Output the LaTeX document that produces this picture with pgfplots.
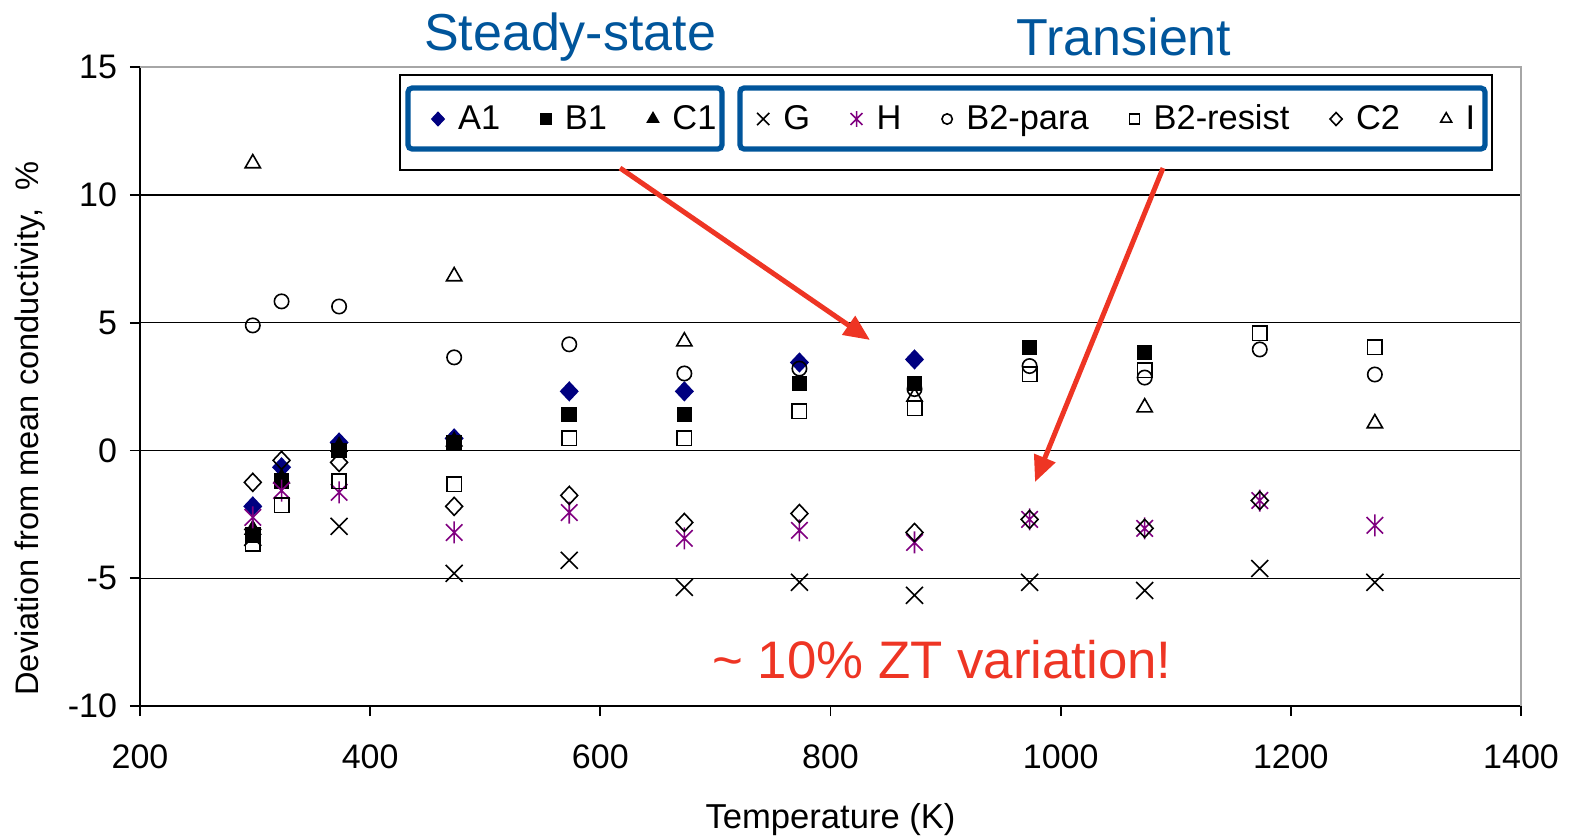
\documentclass[border=0pt]{standalone}
\usepackage{fontspec}
\setmainfont{Liberation Sans}
\usepackage{pgfplots}
\pgfplotsset{compat=1.18}
\usetikzlibrary{arrows.meta}
\definecolor{ttblue}{RGB}{0,85,155}
\definecolor{ttred}{RGB}{238,53,36}
\definecolor{navyA}{RGB}{0,0,128}
\definecolor{purpH}{RGB}{128,0,128}
\pgfdeclareplotmark{xbar}{%
  \pgfpathmoveto{\pgfqpoint{-.75\pgfplotmarksize}{-.75\pgfplotmarksize}}%
  \pgfpathlineto{\pgfqpoint{.75\pgfplotmarksize}{.75\pgfplotmarksize}}%
  \pgfpathmoveto{\pgfqpoint{-.75\pgfplotmarksize}{.75\pgfplotmarksize}}%
  \pgfpathlineto{\pgfqpoint{.75\pgfplotmarksize}{-.75\pgfplotmarksize}}%
  \pgfpathmoveto{\pgfqpoint{0pt}{-\pgfplotmarksize}}%
  \pgfpathlineto{\pgfqpoint{0pt}{\pgfplotmarksize}}%
  \pgfusepathqstroke}
\begin{document}
\begin{tikzpicture}
\useasboundingbox (-70pt,-65.5pt) rectangle (714.5pt,353pt);
\begin{axis}[
  scale only axis,
  width=690.5pt, height=319.5pt,
  xmin=200, xmax=1400, ymin=-10, ymax=15,
  xtick={200,400,...,1400}, ytick={-10,-5,...,15},
  axis x line*=bottom, axis y line*=left,
  axis line style={black, line width=0.9pt},
  tick align=outside, major tick length=5pt,
  tick style={black, line width=0.9pt},
  ymajorgrids, grid style={black, line width=0.7pt},
  /pgf/number format/assume math mode=true,
  /pgf/number format/set thousands separator={},
  tick label style={font=\fontsize{17}{20}\selectfont},
  xticklabel style={yshift=-11pt},
  yticklabel style={xshift=-3pt},
  xlabel={Temperature (K)},
  ylabel={Deviation from mean conductivity, \ \%},
  xlabel style={font=\fontsize{17.3}{20}\selectfont, at={(axis description cs:0.5,-0.178)}, anchor=center},
  ylabel style={font=\fontsize{16.3}{20}\selectfont, at={(axis description cs:-0.0797,0.434)}, anchor=center},
  clip=false,
  legend columns=9,
  legend style={draw=none, fill=none, inner sep=0pt,
    at={(rel axis cs:0.2111,0.9186)}, anchor=west,
    font=\fontsize{17.2}{20}\selectfont,
    nodes={inner xsep=2pt},
    /tikz/every odd column/.append style={column sep=5pt},
    /tikz/every even column/.append style={column sep=18.3pt}},
  legend image code/.code={\draw[every mark/.append style={scale=0.72}] plot coordinates {(0.15cm,0cm)};},
  every axis plot/.append style={only marks, line width=0.8pt},
]
% decorations
\draw[black, line width=0.8pt, fill=white] (rel axis cs:0.1883,0.9875) rectangle (rel axis cs:0.979,0.8388);
\draw[ttblue, line width=2.6pt, rounded corners=2pt] (rel axis cs:0.1941,0.9671) rectangle (rel axis cs:0.4214,0.8717);
\draw[ttblue, line width=2.6pt, rounded corners=2pt] (rel axis cs:0.4345,0.9671) rectangle (rel axis cs:0.9739,0.8717);

\addplot[mark=diamond*, mark size=4.5pt, draw=navyA, fill=navyA, mark options={draw=navyA, fill=navyA, xscale=1.25}] coordinates {
(298,-2.19) (323,-0.66) (373,0.31) (473,0.47) (573,2.31) (673,2.31) (773,3.44) (873,3.56)};
\addlegendentry{A1}
\addplot[mark=square*, mark size=3.5pt, draw=black, fill=black, mark options={draw=black, fill=black}] coordinates {
(298,-3.3) (323,-1.2) (373,0.0) (473,0.3) (573,1.41) (673,1.41) (773,2.62) (873,2.62) (973,4.03) (1073,3.83)};
\addlegendentry{B1}
\addplot[mark=triangle*, mark size=4.4pt, draw=black, fill=black, mark options={draw=black, fill=black}] coordinates {
(298,-3.1) (323,-1.1) (373,0.15) (473,0.35)};
\addlegendentry{C1}
\addplot[mark=x, mark size=6pt, draw=black, mark options={draw=black}] coordinates {
(298,-3.4) (373,-2.97) (473,-4.81) (573,-4.3) (673,-5.36) (773,-5.16) (873,-5.67) (973,-5.16) (1073,-5.48) (1173,-4.62) (1273,-5.16)};
\addlegendentry{G}
\addplot[mark=xbar, mark size=5.5pt, draw=purpH, mark options={draw=purpH}] coordinates {
(298,-2.62) (323,-1.57) (373,-1.64) (473,-3.21) (573,-2.43) (673,-3.44) (773,-3.13) (873,-3.6) (973,-2.7) (1073,-3.05) (1173,-1.96) (1273,-2.93)};
\addlegendentry{H}
\addplot[mark=o, mark size=3.6pt, draw=black, mark options={draw=black, fill=white}] coordinates {
(298,4.89) (323,5.83) (373,5.63) (473,3.64) (573,4.15) (673,3.01) (773,3.2) (873,2.4) (973,3.3) (1073,2.85) (1173,3.95) (1273,2.97)};
\addlegendentry{B2-para}
\addplot[mark=square, mark size=3.6pt, draw=black, mark options={draw=black, fill=white}] coordinates {
(298,-3.65) (323,-2.15) (373,-1.21) (473,-1.33) (573,0.47) (673,0.47) (773,1.53) (873,1.64) (973,2.97) (1073,3.13) (1173,4.58) (1273,4.03)};
\addlegendentry{B2-resist}
\addplot[mark=diamond, mark size=4.5pt, draw=black, mark options={draw=black, xscale=1.25}] coordinates {
(298,-1.25) (323,-0.39) (373,-0.47) (473,-2.19) (573,-1.76) (673,-2.82) (773,-2.47) (873,-3.21) (973,-2.7) (1073,-3.05) (1173,-1.96)};
\addlegendentry{C2}
\addplot[mark=triangle, mark size=4.4pt, draw=black, mark options={draw=black, fill=white}] coordinates {
(298,11.23) (473,6.81) (673,4.26) (873,2.1) (1073,1.68) (1273,1.06)};
\addlegendentry{I}

\draw[gray!70, line width=1.4pt] (rel axis cs:0,1) -- (rel axis cs:1,1) -- (rel axis cs:1,0);

\node[text=ttblue, font=\fontsize{26}{30}\selectfont] at (rel axis cs:0.3114,1.047) {Steady-state};
\node[text=ttblue, font=\fontsize{26}{30}\selectfont] at (rel axis cs:0.7125,1.047) {Transient};
\node[text=ttred, font=\fontsize{26.4}{30}\selectfont] at (rel axis cs:0.5807,0.072) {\textasciitilde{} 10\% ZT variation!};
\draw[ttred, line width=2.5pt, -{Triangle[length=13pt,width=11pt]}] (rel axis cs:0.3476,0.8419) -- (rel axis cs:0.5286,0.5728);
\draw[ttred, line width=2.5pt, -{Triangle[length=13pt,width=11pt]}] (rel axis cs:0.7408,0.8419) -- (rel axis cs:0.6481,0.3505);
\end{axis}
\end{tikzpicture}
\end{document}
